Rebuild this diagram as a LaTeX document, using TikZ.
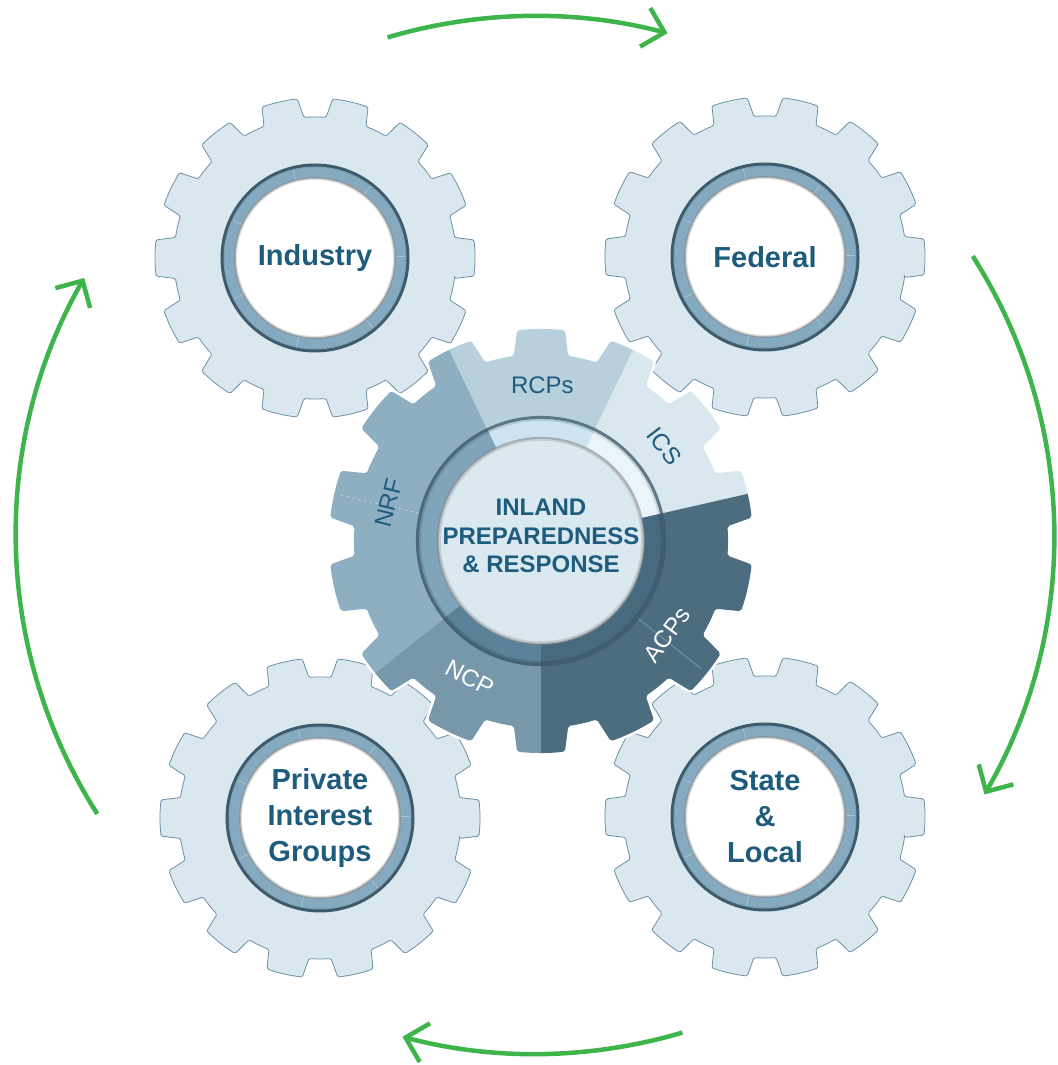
\documentclass[tikz,border=0pt]{standalone}
\usepackage{fontspec}
\setmainfont{Liberation Sans}
\usetikzlibrary{arrows.meta}
\definecolor{gearlight}{HTML}{D9E7EF}
\definecolor{gearedge}{HTML}{6E90A6}
\definecolor{ringdark}{HTML}{3E5B6C}
\definecolor{ringbody}{HTML}{85AAC0}
\definecolor{textblue}{HTML}{1E5C7E}
\definecolor{cRCP}{HTML}{B8CFDC}
\definecolor{rRCP}{HTML}{CDE5F3}
\definecolor{cICS}{HTML}{D9E7EF}
\definecolor{rICS}{HTML}{E9F5F8}
\definecolor{cNRF}{HTML}{8EAFC1}
\definecolor{rNRF}{HTML}{80A5BA}
\definecolor{cNCP}{HTML}{7798AB}
\definecolor{rNCP}{HTML}{5A8298}
\definecolor{cACP}{HTML}{4C6D80}
\definecolor{rACP}{HTML}{486A7E}
\definecolor{centerfill}{HTML}{DAE8F0}
\definecolor{arrowgreen}{HTML}{3DB54A}

\newcommand\gearpath[3]{({#3-8.36}:#2) \foreach \k in {0,...,13}{ -- ({#3+\k*25.7143-6.5}:#1) arc[start angle={#3+\k*25.7143-6.5}, end angle={#3+\k*25.7143+6.5}, radius=#1] -- ({#3+\k*25.7143+8.36}:#2) arc[start angle={#3+\k*25.7143+8.36}, end angle={#3+(\k+1)*25.7143-8.36}, radius=#2]} -- cycle}

\tikzset{
  gearlabel/.style={text=textblue, font=\bfseries\fontsize{29}{36}\selectfont, align=center, inner sep=0pt},
  seglabel/.style={font=\fontsize{24}{28}\selectfont, inner sep=0pt},
  cyc/.style={draw=arrowgreen, line width=4.5pt, -{Straight Barb[length=20pt,width=40pt]}},
}

\newcommand\outergear[3]{%
\begin{scope}[shift={#2}]
  \draw[fill=gearlight, draw=gearedge, line width=0.8pt, rounded corners=1.5pt] \gearpath{160pt}{141pt}{0};
  \fill[ringdark] (0,0) circle[radius=94.5pt];
  \fill[ringbody!85!ringdark] (0,0) circle[radius=91.5pt];
  \fill[ringbody] (0,0) circle[radius=90.5pt];
  \foreach \a in {1,52.43,103.86,155.29,206.71,258.14,309.57}
    \draw[white, opacity=.35, line width=.6pt] (\a:80pt) -- (\a:90.5pt);
  \fill[white] (0,0) circle[radius=80pt];
  \draw[gray, line width=1.6pt, opacity=.6] (0,0) circle[radius=80pt];
  \draw[gray, line width=1.2pt, opacity=.25] (0,0) circle[radius=78.6pt];
  \node[gearlabel] (#1) at (0,0) {#3};
\end{scope}}

\newcommand\ringsec[3]{\fill[#3] (#1:103pt) arc[start angle=#1, end angle=#2, radius=103pt] -- (#2:125pt) arc[start angle=#2, end angle=#1, radius=125pt] -- cycle;}
\newcommand\gearsec[3]{\fill[#3] (0,0) -- (#1:240pt) arc[start angle=#1, end angle=#2, radius=240pt] -- cycle;}

\begin{document}
\begin{tikzpicture}[x=1pt, y=1pt]
\useasboundingbox (0,0) rectangle (1057,1065);
\fill[white] (0,0) rectangle (1057,1065);

% outer gears
\outergear{industry}{(315,807)}{Industry}
\outergear{federal}{(765,808)}{Federal}
\outergear{private}{(320,247)}{Private\\Interest\\Groups}
\outergear{statelocal}{(765,248)}{State\\\&\\Local}

% central gear
\begin{scope}[shift={(541,524)}]
  \draw[white, line width=5pt, line join=round, rounded corners=2pt] \gearpath{212pt}{187pt}{90};
  \begin{scope}
    \path[clip, rounded corners=2pt] \gearpath{212pt}{187pt}{90};
    \gearsec{12.86}{64.29}{cICS}
    \gearsec{64.29}{115.71}{cRCP}
    \gearsec{115.71}{218.57}{cNRF}
    \gearsec{218.57}{270}{cNCP}
    \gearsec{270}{372.86}{cACP}
  \end{scope}
  \draw[white, opacity=.55, dashed, line width=.6pt] (167.14:125pt) -- (167.14:205pt);
  \draw[cNRF, opacity=.8, line width=.6pt] (321.43:125pt) -- (321.43:205pt);
  \ringsec{12.86}{64.29}{rICS}
  \ringsec{64.29}{115.71}{rRCP}
  \ringsec{115.71}{218.57}{rNRF}
  \ringsec{218.57}{270}{rNCP}
  \ringsec{270}{372.86}{rACP}
  \draw[ringdark, opacity=.8, line width=3pt] (0,0) circle[radius=123.6pt];
  \draw[black, opacity=.12, line width=2pt] (0,0) circle[radius=121pt];
  \fill[centerfill] (0,0) circle[radius=103pt];
  \draw[gray, line width=2.2pt, opacity=.55] (0,0) circle[radius=103pt];
  \draw[gray, line width=1.6pt, opacity=.25] (0,0) circle[radius=101pt];

  \node[seglabel, text=textblue] (rcps) at (89.5:156pt) {RCPs};
  \node[seglabel, text=textblue, rotate=-52.4] (ics) at (37.6:156pt) {ICS};
  \node[seglabel, text=textblue, rotate=76] (nrf) at (166:157pt) {NRF};
  \node[seglabel, text=white, rotate=53.3] (acps) at (-36.7:157pt) {ACPs};
  \node[seglabel, text=white, rotate=-27.6] (ncp) at (-117.6:154pt) {NCP};
\end{scope}
\node[text=textblue, font=\bfseries\fontsize{24}{28.5}\selectfont, align=center, inner sep=0pt] (core) at (541,529) {INLAND\\PREPAREDNESS\\\& RESPONSE};

% cycle arrows
\coordinate (aTop) at (387.6,1027.6);
\coordinate (aRight) at (972.7,808.9);
\coordinate (aBottom) at (682.4,32.4);
\coordinate (aLeft) at (97.3,251.1);
\draw[cyc] (aTop) arc[start angle=106.5, end angle=75.2, radius=519pt];
\draw[cyc] (aRight) arc[start angle=32.5, end angle=-30, radius=519pt];
\draw[cyc] (aBottom) arc[start angle=-73.5, end angle=-104.8, radius=519pt];
\draw[cyc] (aLeft) arc[start angle=212.5, end angle=150.3, radius=519pt];
\end{tikzpicture}
\end{document}
